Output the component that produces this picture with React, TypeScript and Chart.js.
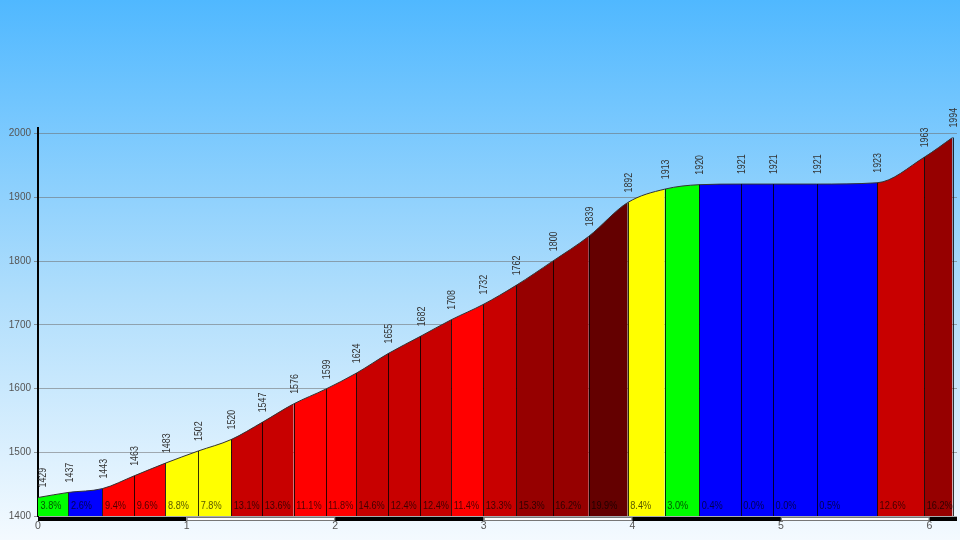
import React, { useEffect, useRef } from "react";
import { Chart, registerables } from "chart.js";

Chart.register(...registerables);

// Distance along the climb (km) at each segment boundary
const distancesKm = [
  0, 0.205, 0.434, 0.647, 0.858, 1.078, 1.3, 1.509, 1.721, 1.935, 2.141, 2.357,
  2.574, 2.781, 2.996, 3.218, 3.464, 3.707, 3.969, 4.218, 4.45, 4.729, 4.947,
  5.241, 5.647, 5.964, 6.155,
];
// Elevation (m) at each boundary
const elevations = [
  1429, 1437, 1443, 1463, 1483, 1502, 1520, 1547, 1576, 1599, 1624, 1655, 1682,
  1708, 1732, 1762, 1800, 1839, 1892, 1913, 1920, 1921, 1921, 1921, 1923, 1963,
  1994,
];
// Average gradient (%) of each segment
const grades = [
  3.8, 2.6, 9.4, 9.6, 8.8, 7.8, 13.1, 13.6, 11.1, 11.8, 14.6, 12.4, 12.4, 11.4,
  13.3, 15.3, 16.2, 19.9, 8.4, 3.0, 0.4, 0.0, 0.0, 0.5, 12.6, 16.2,
];
const xTicks = [0, 1, 2, 3, 4, 5, 6];
const yTicks = [1400, 1500, 1600, 1700, 1800, 1900, 2000];

const FONT_FAMILY = "'Liberation Sans', Arial, sans-serif";
const NARROW = 0.8;

function gradeColor(g: number): string {
  if (g < 3) return "#0000ff";
  if (g < 6) return "#00ff00";
  if (g < 9) return "#ffff00";
  if (g < 12) return "#ff0000";
  if (g < 15) return "#c80000";
  if (g < 18) return "#960000";
  return "#640000";
}

const profilePlugin = {
  id: "profileDecor",
  afterDatasetsDraw(chart: any) {
    const ctx = chart.ctx as CanvasRenderingContext2D;
    const meta = chart.getDatasetMeta(0);
    const area = chart.chartArea;
    const bottom = area.bottom;
    ctx.save();
    // segment separators
    ctx.strokeStyle = "rgba(0,0,0,0.8)";
    ctx.lineWidth = 1;
    meta.data.forEach((pt: any, i: number) => {
      if (i === 0) return;
      const x = Math.round(pt.x) + 0.5;
      ctx.beginPath();
      ctx.moveTo(x, pt.y);
      ctx.lineTo(x, bottom);
      ctx.stroke();
    });
    // gradient labels (narrow)
    ctx.font = `11.5px ${FONT_FAMILY}`;
    ctx.fillStyle = "rgba(0,0,0,0.68)";
    ctx.textAlign = "left";
    ctx.textBaseline = "middle";
    grades.forEach((g, i) => {
      const x = meta.data[i].x + 2.5;
      ctx.save();
      ctx.translate(x, bottom - 10);
      ctx.scale(NARROW, 1);
      ctx.fillText(g.toFixed(1) + "%", 0, 0);
      ctx.restore();
    });
    // elevation labels (rotated, narrow along text direction)
    ctx.font = `11.5px ${FONT_FAMILY}`;
    ctx.fillStyle = "#333";
    elevations.forEach((e, i) => {
      const pt = meta.data[i];
      const x = Math.max(pt.x + 1, area.left + 5);
      ctx.save();
      ctx.translate(x, pt.y - 10);
      ctx.rotate(-Math.PI / 2);
      ctx.scale(0.77, 1);
      ctx.textAlign = "left";
      ctx.textBaseline = "middle";
      ctx.fillText(String(e), 0, 0);
      ctx.restore();
    });
    ctx.restore();
  },
  afterDraw(chart: any) {
    const ctx = chart.ctx as CanvasRenderingContext2D;
    const xs = chart.scales.x;
    const area = chart.chartArea;
    const top = area.bottom + 1;
    const h = 4;
    ctx.save();
    const n = Math.ceil(xs.max);
    for (let i = 0; i < n; i++) {
      const x0 = xs.getPixelForValue(i);
      const x1 = Math.min(xs.getPixelForValue(i + 1), area.right);
      if (i % 2 === 0) {
        ctx.fillStyle = "#000";
        ctx.fillRect(x0, top, x1 - x0, h);
      } else {
        ctx.fillStyle = "#fff";
        ctx.fillRect(x0, top, x1 - x0, h);
        ctx.strokeStyle = "#777";
        ctx.lineWidth = 1;
        ctx.strokeRect(x0 + 0.5, top + 0.5, x1 - x0 - 1, h - 1);
      }
    }
    ctx.restore();
  },
};

export default function App() {
  const canvasRef = useRef<HTMLCanvasElement | null>(null);

  useEffect(() => {
    if (!canvasRef.current) return;
    const colors = grades.map(gradeColor);
    const chart = new Chart(canvasRef.current, {
      type: "line",
      data: {
        datasets: [
          {
            data: distancesKm.map((d, i) => ({ x: d, y: elevations[i] })),
            borderColor: "#333",
            borderWidth: 1,
            backgroundColor: colors[0],
            pointRadius: 0,
            cubicInterpolationMode: "monotone",
            fill: "origin",
            segment: {
              backgroundColor: (c: any) => colors[c.p0DataIndex],
            },
          } as any,
        ],
      },
      options: {
        responsive: false,
        animation: false,
        devicePixelRatio: 1,
        layout: { padding: { top: 128, right: 3, left: 0, bottom: 0 } },
        plugins: {
          legend: { display: false },
          tooltip: { enabled: false },
        },
        scales: {
          x: {
            type: "linear",
            min: 0,
            max: 6.185,
            afterBuildTicks: (s: any) => {
              s.ticks = xTicks.map((v) => ({ value: v }));
            },
            afterFit: (s: any) => {
              s.height = 24;
            },
            grid: { display: false, drawTicks: false },
            border: { display: false },
            ticks: {
              padding: 4,
              color: "#555",
              font: { family: FONT_FAMILY, size: 10.5 },
              maxRotation: 0,
              autoSkip: false,
              callback: (v: any) => String(v),
            },
          },
          y: {
            type: "linear",
            min: 1400,
            max: 2009,
            afterBuildTicks: (s: any) => {
              s.ticks = yTicks.map((v) => ({ value: v }));
            },
            afterFit: (s: any) => {
              s.width = 38;
            },
            grid: {
              color: "rgba(110,110,110,0.55)",
              lineWidth: 1,
              drawTicks: true,
              tickLength: 4,
              tickColor: "rgba(110,110,110,0.7)",
            },
            border: { display: true, color: "#000", width: 2 },
            ticks: {
              padding: 3,
              color: "#555",
              font: { family: FONT_FAMILY, size: 10 },
              callback: (v: any) => String(v),
            },
          },
        },
      },
      plugins: [profilePlugin],
    } as any);
    return () => chart.destroy();
  }, []);

  return (
    <div
      style={{
        position: "fixed",
        left: 0,
        top: 0,
        width: 960,
        height: 540,
        background: "linear-gradient(to bottom, #50b8ff 0%, #b0defc 55%, #f4faff 100%)",
      }}
    >
      <canvas ref={canvasRef} width={960} height={540} style={{ display: "block" }} />
    </div>
  );
}
